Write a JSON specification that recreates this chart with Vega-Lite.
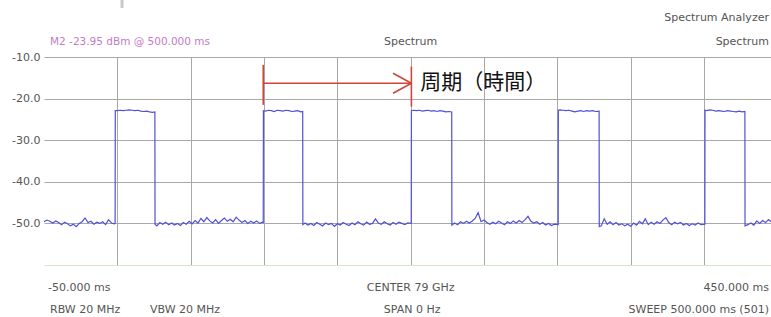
{
  "$schema": "https://vega.github.io/schema/vega-lite/v6.json",
  "width": 727,
  "height": 208,
  "autosize": {"type": "none"},
  "padding": {"left": 44, "top": 57, "right": 0, "bottom": 52},
  "background": "white",
  "config": {"view": {"stroke": null}, "font": "DejaVu Sans"},
  "datasets": {
    "trace": [
      {"t": -50, "v": -49.6}, {"t": -48, "v": -49.2}, {"t": -46, "v": -49.5}, {"t": -44, "v": -49.9}, {"t": -42, "v": -49.4},
      {"t": -40, "v": -49.8}, {"t": -38, "v": -50.3}, {"t": -36, "v": -49.7}, {"t": -34, "v": -50.1}, {"t": -32, "v": -50.6},
      {"t": -30, "v": -50.2}, {"t": -28, "v": -50.8}, {"t": -26, "v": -50.0}, {"t": -24, "v": -49.6}, {"t": -22, "v": -48.7},
      {"t": -20, "v": -49.8}, {"t": -18, "v": -49.5}, {"t": -16, "v": -50.2}, {"t": -14, "v": -49.7}, {"t": -12, "v": -50.0},
      {"t": -10, "v": -49.6}, {"t": -8, "v": -50.3}, {"t": -6, "v": -49.1}, {"t": -4, "v": -49.9}, {"t": -2, "v": -50.1},
      {"t": -1.5, "v": -50.0}, {"t": -1.4, "v": -22.9},
      {"t": 0, "v": -22.9}, {"t": 2, "v": -22.8}, {"t": 4, "v": -22.9}, {"t": 6, "v": -22.8}, {"t": 8, "v": -22.7},
      {"t": 10, "v": -22.8}, {"t": 12, "v": -22.9}, {"t": 14, "v": -22.8}, {"t": 16, "v": -23.0}, {"t": 18, "v": -23.1},
      {"t": 20, "v": -23.0}, {"t": 22, "v": -23.2}, {"t": 24, "v": -23.3}, {"t": 25.6, "v": -23.2}, {"t": 25.7, "v": -50.2},
      {"t": 27, "v": -50.6}, {"t": 29, "v": -49.8}, {"t": 31, "v": -50.2}, {"t": 33, "v": -49.7}, {"t": 35, "v": -50.3},
      {"t": 37, "v": -49.9}, {"t": 39, "v": -50.4}, {"t": 41, "v": -50.0}, {"t": 43, "v": -50.5}, {"t": 45, "v": -49.8},
      {"t": 47, "v": -50.2}, {"t": 49, "v": -49.5}, {"t": 51, "v": -50.1}, {"t": 53, "v": -49.3}, {"t": 55, "v": -49.9},
      {"t": 57, "v": -48.8}, {"t": 59, "v": -49.6}, {"t": 61, "v": -48.6}, {"t": 63, "v": -49.4}, {"t": 65, "v": -49.9},
      {"t": 67, "v": -49.1}, {"t": 69, "v": -50.0}, {"t": 71, "v": -49.3}, {"t": 73, "v": -48.7}, {"t": 75, "v": -49.5},
      {"t": 77, "v": -49.0}, {"t": 79, "v": -49.6}, {"t": 81, "v": -48.5}, {"t": 83, "v": -49.2}, {"t": 85, "v": -49.8},
      {"t": 87, "v": -49.3}, {"t": 89, "v": -50.0}, {"t": 91, "v": -49.5}, {"t": 93, "v": -49.9}, {"t": 95, "v": -49.4},
      {"t": 97, "v": -50.0}, {"t": 99, "v": -49.7},
      {"t": 99.5, "v": -49.8}, {"t": 99.6, "v": -22.9},
      {"t": 101, "v": -23.0}, {"t": 103, "v": -22.8}, {"t": 105, "v": -22.9}, {"t": 107, "v": -23.1}, {"t": 109, "v": -22.8},
      {"t": 111, "v": -22.9}, {"t": 113, "v": -23.0}, {"t": 115, "v": -22.8}, {"t": 117, "v": -22.9}, {"t": 119, "v": -23.1},
      {"t": 121, "v": -23.0}, {"t": 123, "v": -22.9}, {"t": 125, "v": -23.2}, {"t": 126.4, "v": -23.1}, {"t": 126.5, "v": -50.3},
      {"t": 128, "v": -49.9}, {"t": 130, "v": -50.4}, {"t": 132, "v": -50.0}, {"t": 134, "v": -50.5}, {"t": 136, "v": -49.8},
      {"t": 138, "v": -50.2}, {"t": 140, "v": -50.6}, {"t": 142, "v": -49.9}, {"t": 144, "v": -50.3}, {"t": 146, "v": -50.0},
      {"t": 148, "v": -50.7}, {"t": 150, "v": -50.1}, {"t": 152, "v": -50.4}, {"t": 154, "v": -49.8}, {"t": 156, "v": -50.2},
      {"t": 158, "v": -50.5}, {"t": 160, "v": -49.9}, {"t": 162, "v": -50.3}, {"t": 164, "v": -49.6}, {"t": 166, "v": -50.1},
      {"t": 168, "v": -50.4}, {"t": 170, "v": -49.7}, {"t": 172, "v": -50.2}, {"t": 174, "v": -50.0}, {"t": 176, "v": -48.9},
      {"t": 178, "v": -49.9}, {"t": 180, "v": -50.2}, {"t": 182, "v": -49.6}, {"t": 184, "v": -50.1}, {"t": 186, "v": -50.4},
      {"t": 188, "v": -49.8}, {"t": 190, "v": -50.2}, {"t": 192, "v": -49.7}, {"t": 194, "v": -50.0}, {"t": 196, "v": -50.3},
      {"t": 198, "v": -49.9}, {"t": 200.4, "v": -50.0}, {"t": 200.5, "v": -22.9},
      {"t": 202, "v": -22.8}, {"t": 204, "v": -22.9}, {"t": 206, "v": -22.8}, {"t": 208, "v": -23.0}, {"t": 210, "v": -22.9},
      {"t": 212, "v": -22.8}, {"t": 214, "v": -23.0}, {"t": 216, "v": -22.9}, {"t": 218, "v": -23.1}, {"t": 220, "v": -22.9},
      {"t": 222, "v": -23.0}, {"t": 224, "v": -23.2}, {"t": 226, "v": -23.1}, {"t": 228, "v": -23.2}, {"t": 228.1, "v": -50.4},
      {"t": 230, "v": -49.9}, {"t": 232, "v": -50.3}, {"t": 234, "v": -49.6}, {"t": 236, "v": -50.0}, {"t": 238, "v": -49.5},
      {"t": 240, "v": -49.9}, {"t": 242, "v": -49.4}, {"t": 244, "v": -48.8}, {"t": 246, "v": -47.4}, {"t": 248, "v": -49.6},
      {"t": 250, "v": -49.2}, {"t": 252, "v": -49.8}, {"t": 254, "v": -50.2}, {"t": 256, "v": -49.7}, {"t": 258, "v": -50.1},
      {"t": 260, "v": -49.5}, {"t": 262, "v": -49.9}, {"t": 264, "v": -50.3}, {"t": 266, "v": -49.6}, {"t": 268, "v": -50.0},
      {"t": 270, "v": -49.4}, {"t": 272, "v": -49.9}, {"t": 274, "v": -49.3}, {"t": 276, "v": -49.8}, {"t": 278, "v": -49.1},
      {"t": 280, "v": -48.3}, {"t": 282, "v": -49.5}, {"t": 284, "v": -49.9}, {"t": 286, "v": -49.6}, {"t": 288, "v": -50.2},
      {"t": 290, "v": -49.8}, {"t": 292, "v": -50.4}, {"t": 294, "v": -50.0}, {"t": 296, "v": -50.5}, {"t": 298, "v": -50.2},
      {"t": 300.6, "v": -50.3}, {"t": 300.7, "v": -22.8},
      {"t": 302, "v": -22.7}, {"t": 304, "v": -22.8}, {"t": 306, "v": -22.9}, {"t": 308, "v": -22.8}, {"t": 310, "v": -23.0},
      {"t": 312, "v": -23.2}, {"t": 314, "v": -23.0}, {"t": 316, "v": -22.9}, {"t": 318, "v": -23.1}, {"t": 320, "v": -22.9},
      {"t": 322, "v": -23.0}, {"t": 324, "v": -22.9}, {"t": 326, "v": -23.1}, {"t": 328.5, "v": -23.0}, {"t": 328.6, "v": -50.8},
      {"t": 330, "v": -50.6}, {"t": 332, "v": -48.9}, {"t": 334, "v": -50.2}, {"t": 336, "v": -49.6}, {"t": 338, "v": -50.3},
      {"t": 340, "v": -49.8}, {"t": 342, "v": -50.4}, {"t": 344, "v": -50.1}, {"t": 346, "v": -50.6}, {"t": 348, "v": -50.2},
      {"t": 350, "v": -50.7}, {"t": 352, "v": -49.9}, {"t": 354, "v": -50.4}, {"t": 356, "v": -49.5}, {"t": 358, "v": -50.1},
      {"t": 360, "v": -48.9}, {"t": 362, "v": -50.3}, {"t": 364, "v": -49.7}, {"t": 366, "v": -50.2}, {"t": 368, "v": -49.6},
      {"t": 370, "v": -50.0}, {"t": 372, "v": -49.2}, {"t": 374, "v": -48.6}, {"t": 376, "v": -49.8}, {"t": 378, "v": -50.3},
      {"t": 380, "v": -49.7}, {"t": 382, "v": -50.1}, {"t": 384, "v": -49.8}, {"t": 386, "v": -50.4}, {"t": 388, "v": -50.0},
      {"t": 390, "v": -50.5}, {"t": 392, "v": -50.1}, {"t": 394, "v": -50.4}, {"t": 396, "v": -49.9}, {"t": 398, "v": -50.3},
      {"t": 400.6, "v": -50.2}, {"t": 400.7, "v": -22.8},
      {"t": 402, "v": -22.9}, {"t": 404, "v": -22.7}, {"t": 406, "v": -22.8}, {"t": 408, "v": -23.0}, {"t": 410, "v": -22.9},
      {"t": 412, "v": -23.0}, {"t": 414, "v": -23.1}, {"t": 416, "v": -22.9}, {"t": 418, "v": -23.0}, {"t": 420, "v": -23.1},
      {"t": 422, "v": -23.2}, {"t": 424, "v": -23.0}, {"t": 426, "v": -23.2}, {"t": 427.9, "v": -23.1}, {"t": 428, "v": -50.6},
      {"t": 430, "v": -50.3}, {"t": 432, "v": -49.9}, {"t": 434, "v": -50.4}, {"t": 436, "v": -49.4}, {"t": 438, "v": -50.0},
      {"t": 440, "v": -49.3}, {"t": 442, "v": -49.8}, {"t": 444, "v": -49.1}, {"t": 446, "v": -49.6}
    ],
    "arrow": [
      {"t": 99.5, "v": -11.9, "t2": 99.5, "v2": -21.5},
      {"t": 200.5, "v": -12.3, "t2": 200.5, "v2": -21.9},
      {"t": 99.5, "v": -16.3, "t2": 200.5, "v2": -16.3},
      {"t": 188, "v": -13.9, "t2": 200.5, "v2": -16.3},
      {"t": 188, "v": -18.7, "t2": 200.5, "v2": -16.3}
    ],
    "topbar": [{"t": 3.2, "v": 3.8, "t2": 3.2, "v2": 1.8}],
    "leftText": [
      {"t": -47.3, "v": -65.5, "label": "-50.000 ms"},
      {"t": -45.9, "v": -70.8, "label": "RBW 20 MHz"},
      {"t": 22.3, "v": -70.8, "label": "VBW 20 MHz"}
    ],
    "centerText": [
      {"t": 200, "v": -65.5, "label": "CENTER 79 GHz"},
      {"t": 201, "v": -70.8, "label": "SPAN 0 Hz"},
      {"t": 200, "v": -6.3, "label": "Spectrum"}
    ],
    "rightText": [
      {"t": 444.3, "v": -65.5, "label": "450.000 ms"},
      {"t": 444.3, "v": -70.8, "label": "SWEEP 500.000 ms (501)"},
      {"t": 444.3, "v": -0.7, "label": "Spectrum Analyzer"},
      {"t": 444.3, "v": -6.3, "label": "Spectrum"}
    ],
    "marker": [{"t": -45.9, "v": -6.3, "label": "M2 -23.95 dBm @ 500.000 ms"}],
    "note": [{"t": 206.5, "v": -16.3, "label": "周期（時間）"}]
  },
  "encoding": {
    "x": {
      "field": "t", "type": "quantitative",
      "scale": {"domain": [-50, 445.7], "nice": false, "zero": false},
      "axis": {
        "values": [0, 50, 100, 150, 200, 250, 300, 350, 400],
        "grid": true, "gridColor": "#a8a8a8", "gridOpacity": 1, "gridWidth": 1,
        "labels": false, "ticks": false, "domain": false, "title": null
      }
    },
    "y": {
      "field": "v", "type": "quantitative",
      "scale": {"domain": [-60, -10], "nice": false, "zero": false},
      "axis": {
        "values": [-10, -20, -30, -40, -50, -60],
        "grid": true,
        "gridColor": {"condition": {"test": "datum.value == -60", "value": "#d3e6c6"}, "value": "#a8a8a8"},
        "gridOpacity": 1, "gridWidth": 1,
        "labelExpr": "datum.value == -60 ? '' : '-' + format(-datum.value, '.1f')",
        "labelOverlap": false, "labelFont": "DejaVu Sans", "labelFontSize": 11, "labelColor": "#555555",
        "labelPadding": 4, "ticks": false, "domain": false, "title": null
      }
    }
  },
  "layer": [
    {
      "data": {"name": "trace"},
      "mark": {"type": "line", "clip": true, "color": "#5050d8", "strokeWidth": 1.2, "interpolate": "linear"},
      "encoding": {"order": {"field": "t", "type": "quantitative"}}
    },
    {
      "data": {"name": "arrow"},
      "mark": {"type": "rule", "color": "#d0453a", "strokeWidth": 1.6},
      "encoding": {"x2": {"field": "t2"}, "y2": {"field": "v2"}}
    },
    {
      "data": {"name": "topbar"},
      "mark": {"type": "rule", "color": "#c8c8c8", "strokeWidth": 3},
      "encoding": {"x2": {"field": "t2"}, "y2": {"field": "v2"}}
    },
    {
      "data": {"name": "leftText"},
      "mark": {"type": "text", "align": "left", "baseline": "middle", "font": "DejaVu Sans", "fontSize": 11, "color": "#555555"},
      "encoding": {"text": {"field": "label"}}
    },
    {
      "data": {"name": "centerText"},
      "mark": {"type": "text", "align": "center", "baseline": "middle", "font": "DejaVu Sans", "fontSize": 11, "color": "#555555"},
      "encoding": {"text": {"field": "label"}}
    },
    {
      "data": {"name": "rightText"},
      "mark": {"type": "text", "align": "right", "baseline": "middle", "font": "DejaVu Sans", "fontSize": 11, "color": "#555555"},
      "encoding": {"text": {"field": "label"}}
    },
    {
      "data": {"name": "marker"},
      "mark": {"type": "text", "align": "left", "baseline": "middle", "font": "DejaVu Sans", "fontSize": 10.5, "color": "#c27cc6"},
      "encoding": {"text": {"field": "label"}}
    },
    {
      "data": {"name": "note"},
      "mark": {"type": "text", "align": "left", "baseline": "middle", "font": "Noto Sans CJK JP", "fontSize": 21, "color": "#111111"},
      "encoding": {"text": {"field": "label"}}
    }
  ]
}
